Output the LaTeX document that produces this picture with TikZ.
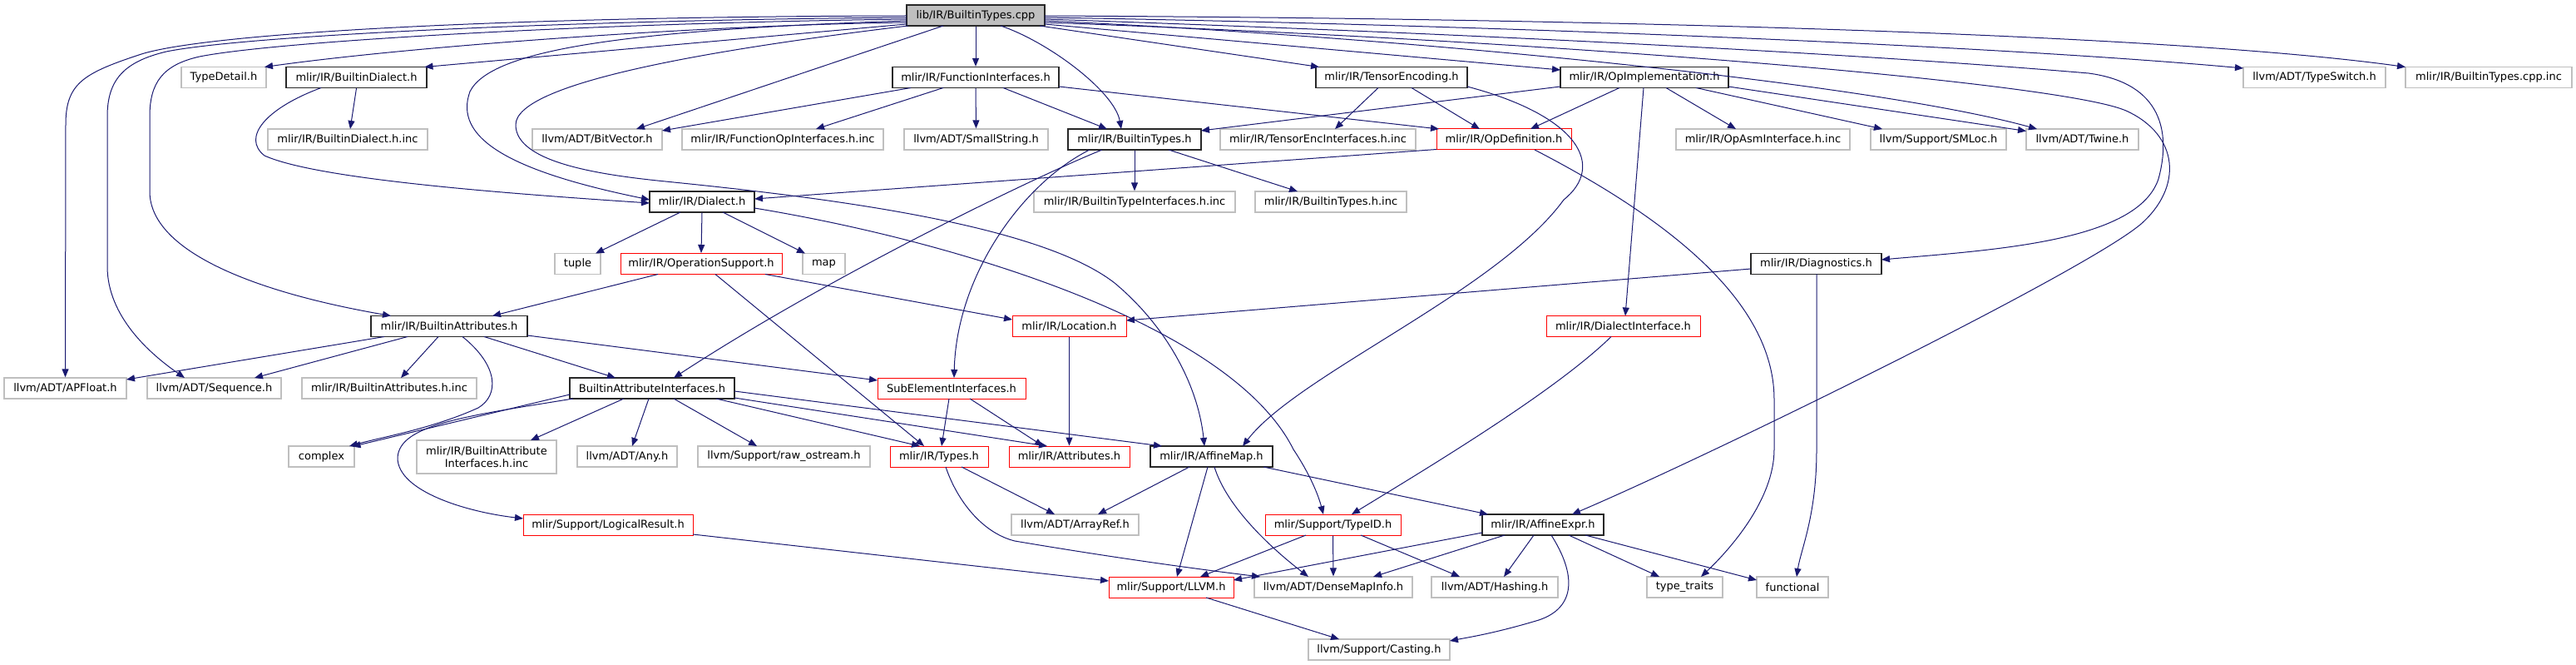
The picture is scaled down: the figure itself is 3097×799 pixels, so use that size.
\documentclass[tikz,border=0pt]{standalone}
\usepackage{fontspec}
\setmainfont{DejaVu Sans}
\usetikzlibrary{arrows.meta}
\definecolor{edgec}{RGB}{25,25,112}
\definecolor{lgray}{RGB}{191,191,191}
\definecolor{bred}{RGB}{255,0,0}
\definecolor{bblk}{RGB}{40,40,40}
\tikzset{
  nb/.style={draw, fill=white, minimum height=25pt, inner sep=0pt, line width=1pt, font=\fontsize{13}{15}\selectfont},
  blk/.style={nb, draw=bblk, line width=1.3pt},
  gry/.style={nb, draw=lgray, line width=1.3pt},
  redbox/.style={nb, draw=bred},
  edge/.style={draw=edgec, line width=1pt, -{Triangle[length=10pt,width=8pt]}},
}
\begin{document}
\begin{tikzpicture}[x=1pt,y=-1pt]
\useasboundingbox (0,0) rectangle (3097,799);
% row A
\node[blk,fill=lgray,minimum width=166pt] (root) at (1173,18.5) {lib/IR/BuiltinTypes.cpp};
% row B
\node[gry,minimum width=102pt] (typedetail) at (269,93) {TypeDetail.h};
\node[blk,minimum width=169pt] (bdialect) at (428.5,93) {mlir/IR/BuiltinDialect.h};
\node[blk,minimum width=200pt] (funcif) at (1173,93) {mlir/IR/FunctionInterfaces.h};
\node[blk,minimum width=182pt] (tensorenc) at (1673,93) {mlir/IR/TensorEncoding.h};
\node[blk,minimum width=202pt] (opimpl) at (1977,93) {mlir/IR/OpImplementation.h};
\node[gry,minimum width=171pt] (typeswitch) at (2782.5,93) {llvm/ADT/TypeSwitch.h};
\node[gry,minimum width=200pt] (cppinc) at (2992,93) {mlir/IR/BuiltinTypes.cpp.inc};
% row C
\node[gry,minimum width=192pt] (bdialinc) at (418,167.5) {mlir/IR/BuiltinDialect.h.inc};
\node[gry,minimum width=156pt] (bitvector) at (718,167.5) {llvm/ADT/BitVector.h};
\node[gry,minimum width=242pt] (funcopinc) at (941,167.5) {mlir/IR/FunctionOpInterfaces.h.inc};
\node[gry,minimum width=173pt] (smallstring) at (1173.5,167.5) {llvm/ADT/SmallString.h};
\node[blk,minimum width=160pt] (btypes) at (1364,167.5) {mlir/IR/BuiltinTypes.h};
\node[gry,minimum width=235pt] (tensorinc) at (1584.5,167.5) {mlir/IR/TensorEncInterfaces.h.inc};
\node[redbox,minimum width=162pt] (opdef) at (1808,167.5) {mlir/IR/OpDefinition.h};
\node[gry,minimum width=209pt] (opasminc) at (2119.5,167.5) {mlir/IR/OpAsmInterface.h.inc};
\node[gry,minimum width=163pt] (smloc) at (2330.5,167.5) {llvm/Support/SMLoc.h};
\node[gry,minimum width=135pt] (twine) at (2503.5,167.5) {llvm/ADT/Twine.h};
% row D
\node[blk,minimum width=126pt] (dialect) at (844,242.5) {mlir/IR/Dialect.h};
\node[gry,minimum width=242pt] (btypeifinc) at (1364,242.5) {mlir/IR/BuiltinTypeInterfaces.h.inc};
\node[gry,minimum width=182pt] (btypesinc) at (1600,242.5) {mlir/IR/BuiltinTypes.h.inc};
% row E
\node[gry,minimum width=55pt] (tuple) at (694.5,317) {tuple};
\node[redbox,minimum width=194pt] (opsupport) at (843,317) {mlir/IR/OperationSupport.h};
\node[gry,minimum width=51pt] (map) at (990.5,317) {map};
\node[blk,minimum width=157pt] (diag) at (2183.5,317) {mlir/IR/Diagnostics.h};
% row F
\node[blk,minimum width=188pt] (battr) at (540,392) {mlir/IR/BuiltinAttributes.h};
\node[redbox,minimum width=137pt] (location) at (1285.5,392) {mlir/IR/Location.h};
\node[redbox,minimum width=185pt] (dialif) at (1951.5,392) {mlir/IR/DialectInterface.h};
% row G
\node[gry,minimum width=147pt] (apfloat) at (78.5,466.5) {llvm/ADT/APFloat.h};
\node[gry,minimum width=161pt] (sequence) at (257.5,466.5) {llvm/ADT/Sequence.h};
\node[gry,minimum width=210pt] (battrinc) at (468,466.5) {mlir/IR/BuiltinAttributes.h.inc};
\node[blk,minimum width=198pt] (bai) at (784,466.5) {BuiltinAttributeInterfaces.h};
\node[redbox,minimum width=178pt] (subelem) at (1144,466.5) {SubElementInterfaces.h};
% row H
\node[gry,minimum width=79pt] (complex) at (386.5,548.5) {complex};
\node[gry,minimum width=168pt,minimum height=40pt,align=center] (baiinc) at (585,549) {mlir/IR/BuiltinAttribute\\Interfaces.h.inc};
\node[gry,minimum width=120pt] (any) at (754,548.5) {llvm/ADT/Any.h};
\node[gry,minimum width=207pt] (rawos) at (942.5,548.5) {llvm/Support/raw\_ostream.h};
\node[redbox,minimum width=118pt] (types) at (1129,548.5) {mlir/IR/Types.h};
\node[redbox,minimum width=145pt] (attrs) at (1285.5,548.5) {mlir/IR/Attributes.h};
\node[blk,minimum width=147pt] (affmap) at (1456.5,548.5) {mlir/IR/AffineMap.h};
% row I
\node[redbox,minimum width=204pt] (logres) at (731,630.5) {mlir/Support/LogicalResult.h};
\node[gry,minimum width=153pt] (arrayref) at (1292.5,630.5) {llvm/ADT/ArrayRef.h};
\node[redbox,minimum width=163pt] (typeid) at (1602.5,630.5) {mlir/Support/TypeID.h};
\node[blk,minimum width=146pt] (affexpr) at (1855,630.5) {mlir/IR/AffineExpr.h};
% row J
\node[redbox,minimum width=150pt] (llvmh) at (1408,705.5) {mlir/Support/LLVM.h};
\node[gry,minimum width=190pt] (densemap) at (1603,705.5) {llvm/ADT/DenseMapInfo.h};
\node[gry,minimum width=152pt] (hashing) at (1797,705.5) {llvm/ADT/Hashing.h};
\node[gry,minimum width=91pt] (typetraits) at (2025.5,705.5) {type\_traits};
\node[gry,minimum width=86pt] (functional) at (2155,705.5) {functional};
% row K
\node[gry,minimum width=170pt] (casting) at (1658,780.5) {llvm/Support/Casting.h};

% ---- edges from root
\draw[edge] ([shift={(-83,0.5)}]root.center) .. controls (600,20) and (250,40) .. (170,65) .. controls (100,88) and (79,100) .. (79,150) -- (apfloat.north);
\draw[edge] ([shift={(-83,2.5)}]root.center) .. controls (700,24) and (300,42) .. (200,62) .. controls (150,74) and (129,95) .. (129,140) -- (129,320) .. controls (129,380) and (180,425) .. ([shift={(-35.5,-12.5)}]sequence.center);
\draw[edge] ([shift={(-83,4.5)}]root.center) .. controls (700,28) and (330,50) .. (240,68) .. controls (195,78) and (180,100) .. (180,140) -- (180,230) .. controls (180,300) and (300,350) .. ([shift={(-70,-12.5)}]battr.center);
\draw[edge] ([shift={(-83,6.5)}]root.center) .. controls (750,36) and (590,60) .. (565,110) .. controls (545,165) and (610,205) .. ([shift={(-63,-2.5)}]dialect.center);
\draw[edge] ([shift={(-83,8.5)}]root.center) .. controls (850,30) and (500,55) .. ([shift={(49,-12.5)}]typedetail.center);
\draw[edge] ([shift={(-83,10.5)}]root.center) -- ([shift={(82,-12.5)}]bdialect.center);
\draw[edge] ([shift={(-81,12.5)}]root.center) .. controls (850,60) and (620,100) .. (620,150) .. controls (620,195) and (720,210) .. (800,218) .. controls (1000,238) and (1250,270) .. (1340,340) .. controls (1400,390) and (1440,460) .. ([shift={(-8.5,-12.5)}]affmap.center);
\draw[edge] ([shift={(-39,12.5)}]root.center) -- ([shift={(47,-12.5)}]bitvector.center);
\draw[edge] (root.south) -- (funcif.north);
\draw[edge] ([shift={(30,12.5)}]root.center) .. controls (1260,50) and (1340,110) .. ([shift={(-16,-12.5)}]btypes.center);
\draw[edge] ([shift={(77,12.5)}]root.center) -- ([shift={(-87,-12.5)}]tensorenc.center);
\draw[edge] ([shift={(83,10.5)}]root.center) -- ([shift={(-101,-9)}]opimpl.center);
\draw[edge] ([shift={(83,0.5)}]root.center) .. controls (1900,22) and (2600,40) .. ([shift={(-100,-12.5)}]cppinc.center);
\draw[edge] ([shift={(83,2.5)}]root.center) .. controls (1800,30) and (2400,55) .. ([shift={(-85.5,-11)}]typeswitch.center);
\draw[edge] ([shift={(83,4.5)}]root.center) .. controls (1900,45) and (2300,70) .. (2511,88) .. controls (2600,100) and (2610,160) .. (2595,215) .. controls (2570,290) and (2400,300) .. ([shift={(78.5,-5)}]diag.center);
\draw[edge] ([shift={(83,6.5)}]root.center) .. controls (1700,45) and (2250,100) .. ([shift={(-54.5,-12.5)}]twine.center);
\draw[edge] ([shift={(83,8.5)}]root.center) .. controls (1900,50) and (2480,100) .. (2556,133) .. controls (2620,162) and (2625,225) .. (2573,270) .. controls (2500,330) and (2050,550) .. ([shift={(35,-12.5)}]affexpr.center);

% ---- BuiltinDialect
\draw[edge] (bdialect.south) -- ([shift={(3,-12.5)}]bdialinc.center);
\draw[edge] ([shift={(-42.5,12.5)}]bdialect.center) .. controls (320,130) and (290,165) .. (318,187) .. controls (380,215) and (600,232) .. ([shift={(-63,1.5)}]dialect.center);

% ---- FunctionInterfaces
\draw[edge] ([shift={(-78,12.5)}]funcif.center) -- ([shift={(78,-10.5)}]bitvector.center);
\draw[edge] ([shift={(-39,12.5)}]funcif.center) -- ([shift={(40,-12.5)}]funcopinc.center);
\draw[edge] (funcif.south) -- (smallstring.north);
\draw[edge] ([shift={(33,12.5)}]funcif.center) -- ([shift={(-33,-12.5)}]btypes.center);
\draw[edge] ([shift={(100,11)}]funcif.center) -- ([shift={(-78,-12.5)}]opdef.center);

% ---- TensorEncoding
\draw[edge] ([shift={(-16,12.5)}]tensorenc.center) -- ([shift={(20.5,-12.5)}]tensorinc.center);
\draw[edge] ([shift={(24,12.5)}]tensorenc.center) -- ([shift={(-29,-12.5)}]opdef.center);
\draw[edge] ([shift={(91,11)}]tensorenc.center) .. controls (1900,140) and (1930,200) .. (1880,240) .. controls (1800,350) and (1560,450) .. ([shift={(37.5,-12.5)}]affmap.center);

% ---- OpImplementation
\draw[edge] ([shift={(-101,11)}]opimpl.center) -- ([shift={(80,-10.5)}]btypes.center);
\draw[edge] ([shift={(-30,12.5)}]opimpl.center) -- ([shift={(32,-12.5)}]opdef.center);
\draw[edge] ([shift={(-1,12.5)}]opimpl.center) -- ([shift={(2.5,-12.5)}]dialif.center);
\draw[edge] ([shift={(26,12.5)}]opimpl.center) -- ([shift={(-32.5,-12.5)}]opasminc.center);
\draw[edge] ([shift={(62,12.5)}]opimpl.center) -- ([shift={(-67.5,-12.5)}]smloc.center);
\draw[edge] ([shift={(101,11)}]opimpl.center) -- ([shift={(-67.5,-10)}]twine.center);

% ---- BuiltinTypes
\draw[edge] (btypes.south) -- (btypeifinc.north);
\draw[edge] ([shift={(41,12.5)}]btypes.center) -- ([shift={(-40,-12.5)}]btypesinc.center);
\draw[edge] ([shift={(-39,12.5)}]btypes.center) .. controls (1250,210) and (1000,330) .. ([shift={(26,-12.5)}]bai.center);
\draw[edge] ([shift={(-54,12.5)}]btypes.center) .. controls (1230,220) and (1150,330) .. ([shift={(3,-12.5)}]subelem.center);

% ---- OpDefinition
\draw[edge] ([shift={(-81,12)}]opdef.center) -- ([shift={(63,-3.5)}]dialect.center);
\draw[edge] ([shift={(37,12.5)}]opdef.center) .. controls (2000,260) and (2133,360) .. (2133,480) -- (2133,540) .. controls (2133,600) and (2080,660) .. ([shift={(19.5,-12.5)}]typetraits.center);

% ---- Dialect
\draw[edge] ([shift={(-26,12.5)}]dialect.center) -- ([shift={(21.5,-12.5)}]tuple.center);
\draw[edge] (dialect.south) -- (opsupport.north);
\draw[edge] ([shift={(25,12.5)}]dialect.center) -- ([shift={(-22.5,-12.5)}]map.center);
\draw[edge] ([shift={(63,7.5)}]dialect.center) .. controls (1150,290) and (1480,390) .. (1555,540) .. controls (1575,570) and (1585,595) .. ([shift={(-11.5,-12.5)}]typeid.center);

% ---- OperationSupport
\draw[edge] ([shift={(-52,12.5)}]opsupport.center) -- ([shift={(52,-12.5)}]battr.center);
\draw[edge] ([shift={(77,12.5)}]opsupport.center) -- ([shift={(-68.5,-8)}]location.center);
\draw[edge] ([shift={(17,12.5)}]opsupport.center) -- ([shift={(-18,-12.5)}]types.center);

% ---- Diagnostics
\draw[edge] ([shift={(-78.5,6)}]diag.center) -- ([shift={(68.5,-7)}]location.center);
\draw[edge] ([shift={(0.5,12.5)}]diag.center) -- (2184,540) .. controls (2184,620) and (2165,660) .. ([shift={(5,-12.5)}]functional.center);

% ---- BuiltinAttributes
\draw[edge] ([shift={(-78,12.5)}]battr.center) -- ([shift={(73.5,-10.5)}]apfloat.center);
\draw[edge] ([shift={(-50,12.5)}]battr.center) -- ([shift={(48.5,-12.5)}]sequence.center);
\draw[edge] ([shift={(-13,12.5)}]battr.center) -- ([shift={(14,-12.5)}]battrinc.center);
\draw[edge] ([shift={(42,12.5)}]battr.center) -- ([shift={(-44,-12.5)}]bai.center);
\draw[edge] ([shift={(94,11)}]battr.center) -- ([shift={(-89,-9.5)}]subelem.center);
\draw[edge] ([shift={(16,12.5)}]battr.center) .. controls (600,440) and (600,475) .. (575,490) .. controls (520,515) and (460,525) .. ([shift={(33.5,-12.5)}]complex.center);

% ---- BuiltinAttributeInterfaces
\draw[edge] ([shift={(-99,7.5)}]bai.center) -- ([shift={(37,-12)}]complex.center);
\draw[edge] ([shift={(-95,12.5)}]bai.center) .. controls (560,500) and (480,510) .. (478,550) .. controls (478,590) and (560,615) .. ([shift={(-102,-7.5)}]logres.center);
\draw[edge] ([shift={(-34,12.5)}]bai.center) -- ([shift={(53,-20)}]baiinc.center);
\draw[edge] ([shift={(-4,12.5)}]bai.center) -- ([shift={(6,-12.5)}]any.center);
\draw[edge] ([shift={(26,12.5)}]bai.center) -- ([shift={(-32.5,-12.5)}]rawos.center);
\draw[edge] ([shift={(77,12.5)}]bai.center) -- ([shift={(-23,-12.5)}]types.center);
\draw[edge] ([shift={(99,11.5)}]bai.center) -- ([shift={(-26.5,-12.5)}]attrs.center);
\draw[edge] ([shift={(99,3.5)}]bai.center) -- ([shift={(-59.5,-12.5)}]affmap.center);

% ---- SubElementInterfaces
\draw[edge] ([shift={(-3,12.5)}]subelem.center) -- ([shift={(3,-12.5)}]types.center);
\draw[edge] ([shift={(22,12.5)}]subelem.center) -- ([shift={(-31.5,-12.5)}]attrs.center);

% ---- Location
\draw[edge] (location.south) -- (attrs.north);

% ---- DialectInterface
\draw[edge] ([shift={(-14.5,12.5)}]dialif.center) .. controls (1870,470) and (1720,560) .. ([shift={(22.5,-12.5)}]typeid.center);

% ---- Types
\draw[edge] ([shift={(27,12.5)}]types.center) -- ([shift={(-24.5,-12.5)}]arrayref.center);
\draw[edge] ([shift={(8,12.5)}]types.center) .. controls (1150,600) and (1180,640) .. (1220,650) .. controls (1350,672) and (1450,685) .. ([shift={(-88,-12.5)}]densemap.center);

% ---- AffineMap
\draw[edge] ([shift={(-26.5,12.5)}]affmap.center) -- ([shift={(27.5,-12.5)}]arrayref.center);
\draw[edge] ([shift={(-4.5,12.5)}]affmap.center) -- ([shift={(7,-12.5)}]llvmh.center);
\draw[edge] ([shift={(3.5,12.5)}]affmap.center) .. controls (1475,610) and (1530,660) .. ([shift={(-30,-12.5)}]densemap.center);
\draw[edge] ([shift={(62.5,12.5)}]affmap.center) -- ([shift={(-66,-12.5)}]affexpr.center);

% ---- LogicalResult
\draw[edge] ([shift={(102,11.5)}]logres.center) -- ([shift={(-75,-7.5)}]llvmh.center);

% ---- TypeID
\draw[edge] ([shift={(-32.5,12.5)}]typeid.center) -- ([shift={(35,-12.5)}]llvmh.center);
\draw[edge] (typeid.south) -- (densemap.north);
\draw[edge] ([shift={(33.5,12.5)}]typeid.center) -- ([shift={(-42,-12.5)}]hashing.center);

% ---- AffineExpr
\draw[edge] ([shift={(-73,9.5)}]affexpr.center) -- ([shift={(75,-8.5)}]llvmh.center);
\draw[edge] ([shift={(-46,12.5)}]affexpr.center) -- ([shift={(48,-12.5)}]densemap.center);
\draw[edge] ([shift={(-11,12.5)}]affexpr.center) -- ([shift={(11,-12.5)}]hashing.center);
\draw[edge] ([shift={(10,12.5)}]affexpr.center) .. controls (1895,690) and (1895,730) .. (1850,745) .. controls (1800,760) and (1770,765) .. ([shift={(85,-10.5)}]casting.center);
\draw[edge] ([shift={(31,12.5)}]affexpr.center) -- ([shift={(-30.5,-12.5)}]typetraits.center);
\draw[edge] ([shift={(51,12.5)}]affexpr.center) -- ([shift={(-43,-8.5)}]functional.center);

% ---- LLVM
\draw[edge] ([shift={(42,12.5)}]llvmh.center) -- ([shift={(-48,-12.5)}]casting.center);
\end{tikzpicture}
\end{document}
